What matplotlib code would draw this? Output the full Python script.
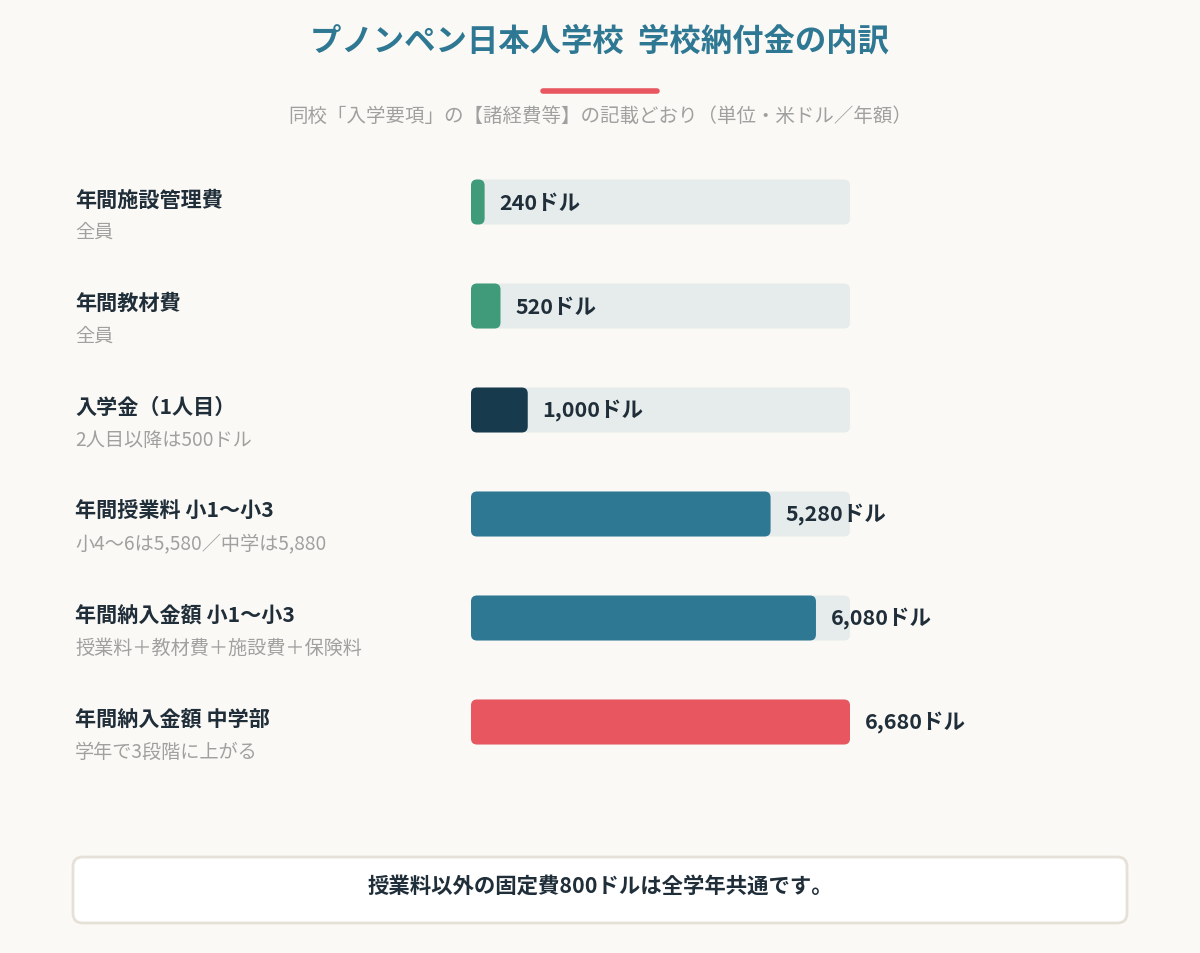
import matplotlib.pyplot as plt
from matplotlib.patches import FancyBboxPatch
from matplotlib.transforms import blended_transform_factory

plt.rcParams['font.family'] = ['Noto Sans CJK JP', 'DejaVu Sans']

# data
items = ['年間施設管理費', '年間教材費', '入学金（1人目）',
         '年間授業料 小1〜小3', '年間納入金額 小1〜小3', '年間納入金額 中学部']
notes = ['全員', '全員', '2人目以降は500ドル',
         '小4〜6は5,580／中学は5,880', '授業料＋教材費＋施設費＋保険料', '学年で3段階に上がる']
values = [240, 520, 1000, 5280, 6080, 6680]
bar_colors = ['#3f9b7a', '#3f9b7a', '#173a4c', '#2e7893', '#2e7893', '#e85660']

BG = '#fbf9f5'
TRACK = '#e6ecec'
DARK = '#1f2e39'
GRAY = '#a0a0a0'
TEAL = '#2e7893'

W, H = 1200, 954
fig = plt.figure(figsize=(W / 100, H / 100), dpi=100, facecolor=BG)

# title block
fig.text(0.5, 1 - 42 / H, 'プノンペン日本人学校  学校納付金の内訳', ha='center', va='center',
         fontsize=22.6, fontweight='bold', color=TEAL)
fig.add_artist(plt.Line2D([543 / W, 657 / W], [1 - 92 / H, 1 - 92 / H], color='#e85660',
                          lw=4, solid_capstyle='round'))
fig.text(0.5, 1 - 116 / H, '同校「入学要項」の【諸経費等】の記載どおり（単位・米ドル／年額）',
         ha='center', va='center', fontsize=14, color=GRAY)

# bar axes
vmax = max(values)
ax_l, ax_r = 471, 850
top, bot = 151, 775
ax = fig.add_axes([ax_l / W, 1 - bot / H, (ax_r - ax_l) / W, (bot - top) / H])
ax.set_xlim(0, vmax)
ax.set_ylim(len(values) - 0.5, -0.5)
ax.axis('off')
ax.patch.set_alpha(0)

xpp = vmax / (ax_r - ax_l)          # data units per px (x)
ypp = 1 / 104                       # data units per px (y)
bh = 45 * ypp
rad = 6 * xpp
aspect = ypp / xpp

for i, (v, c) in enumerate(zip(values, bar_colors)):
    track = FancyBboxPatch((0, i - bh / 2), vmax, bh,
                           boxstyle=f'round,pad=0,rounding_size={rad}',
                           mutation_aspect=aspect, fc=TRACK, ec='none')
    ax.add_patch(track)
    bar = FancyBboxPatch((0, i - bh / 2), v, bh,
                         boxstyle=f'round,pad=0,rounding_size={rad}',
                         mutation_aspect=aspect, fc=c, ec='none')
    ax.add_patch(bar)
    ax.text(v + 15 * xpp, i, f'{v:,}ドル', ha='left', va='center',
            fontsize=15.5, fontweight='bold', color=DARK, clip_on=False)

# row labels on the left
tr = blended_transform_factory(fig.transFigure, ax.transData)
for i, (name, note) in enumerate(zip(items, notes)):
    ax.text(75 / W, i - 0.03, name, transform=tr, ha='left', va='center',
            fontsize=15.2, fontweight='bold', color=DARK)
    ax.text(75 / W, i + 0.28, note, transform=tr, ha='left', va='center',
            fontsize=13.8, color=GRAY)

# footer box
box = FancyBboxPatch((73 / W, 1 - 924 / H), (1127 - 73) / W, 66 / H,
                     boxstyle='round,pad=0,rounding_size=0.008',
                     mutation_aspect=W / H, transform=fig.transFigure,
                     fc='white', ec='#e6e1d8', lw=2)
fig.add_artist(box)
fig.text(0.5, 1 - 886 / H, '授業料以外の固定費800ドルは全学年共通です。', ha='center', va='center',
         fontsize=15.4, fontweight='bold', color=DARK)

fig.savefig('out.png', dpi=100, facecolor=BG)
